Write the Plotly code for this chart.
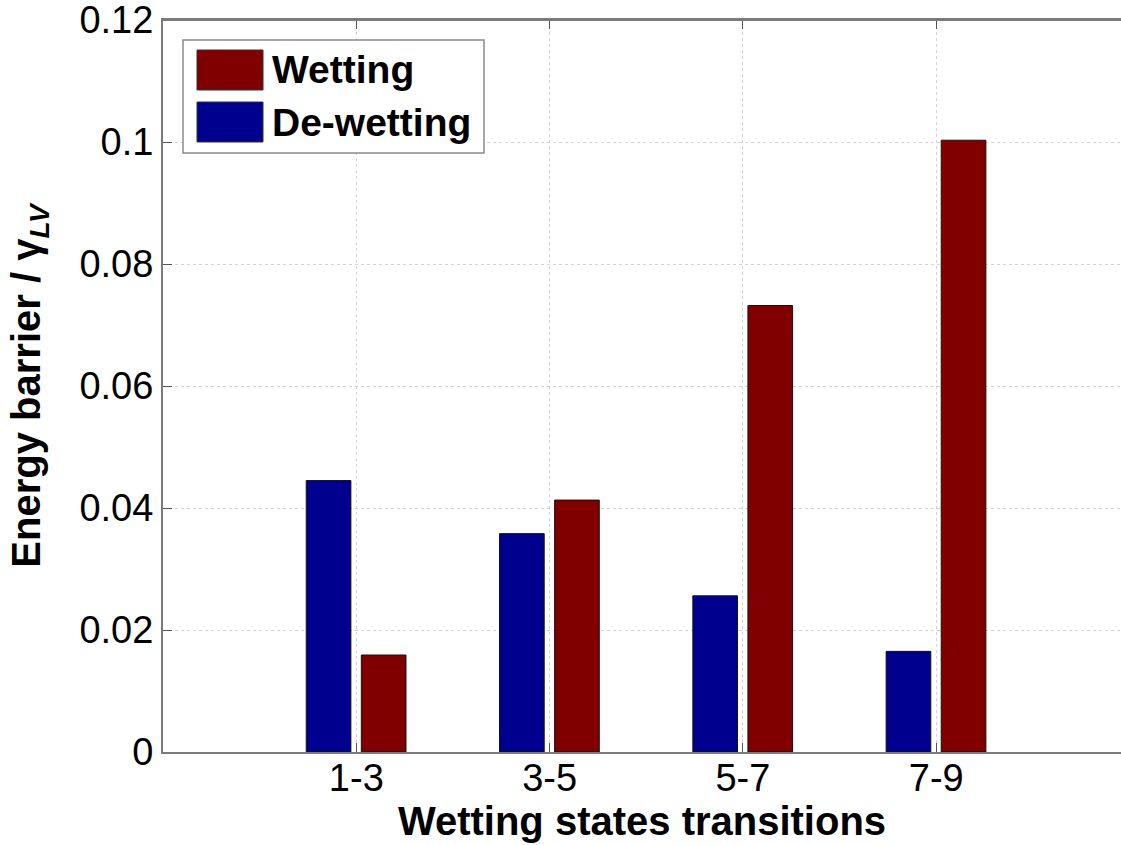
import plotly.graph_objects as go

categories = ["1-3", "3-5", "5-7", "7-9"]
dewetting = [0.0445, 0.0358, 0.0256, 0.0165]
wetting = [0.0159, 0.0413, 0.0732, 0.1003]
series_names = ["Wetting", "De-wetting"]
y_ticks = [0, 0.02, 0.04, 0.06, 0.08, 0.1, 0.12]
y_tick_labels = ["0", "0.02", "0.04", "0.06", "0.08", "0.1", "0.12"]

W, H = 1121, 845
ML, MR, MT, MB = 163, 0, 20, 93
PW, PH = W - ML - MR, H - MT - MB

BLUE = "#00008F"
RED = "#800000"

def px_x(x):
    return (x - ML) / PW

def px_y(y):
    return (H - MB - y) / PH

fig = go.Figure()
fig.add_trace(go.Bar(x=categories, y=dewetting, name=series_names[1],
                     marker=dict(color=BLUE, line=dict(color="#111111", width=1)),
                     width=0.231, offset=-0.259, showlegend=False))
fig.add_trace(go.Bar(x=categories, y=wetting, name=series_names[0],
                     marker=dict(color=RED, line=dict(color="#111111", width=1)),
                     width=0.231, offset=0.026, showlegend=False))

font_main = "Liberation Sans, Arial, sans-serif"

fig.update_layout(
    width=W, height=H,
    margin=dict(l=ML, r=MR, t=MT, b=MB, pad=0),
    plot_bgcolor="white", paper_bgcolor="white",
    font=dict(family=font_main, color="black"),
    barmode="overlay",
    showlegend=False,
    xaxis=dict(
        type="category", range=[-1, 3.956],
        showline=True, linecolor="#7a7a7a", linewidth=2, mirror="ticks",
        ticks="inside", ticklen=9, tickcolor="#555555", tickwidth=1,
        showgrid=True, gridcolor="#d4d4d4", griddash="dot", gridwidth=1,
        tickfont=dict(size=38, family=font_main),
        ticklabelstandoff=-9, ticklabeloverflow="allow",
        title=dict(text="<b>Wetting states transitions</b>",
                   font=dict(size=40, family=font_main), standoff=0),
        zeroline=False,
    ),
    yaxis=dict(
        range=[0, 0.12001], tickvals=y_ticks, ticktext=y_tick_labels,
        showline=True, linecolor="#7a7a7a", linewidth=2, mirror=False,
        ticks="inside", ticklen=9, tickcolor="#555555", tickwidth=1,
        showgrid=True, gridcolor="#d4d4d4", griddash="dot", gridwidth=1,
        tickfont=dict(size=38, family=font_main),
        ticklabelstandoff=0, ticklabeloverflow="allow",
        title=dict(text="<b>Energy barrier / γ<sub><i>LV</i></sub></b>",
                   font=dict(size=40, family=font_main), standoff=26),
        zeroline=False,
    ),
)

# top border line
fig.add_shape(type="line", xref="paper", yref="paper", x0=0, x1=1, y0=1, y1=1,
              line=dict(color="#7a7a7a", width=2))

# manual legend (MATLAB style)
fig.add_shape(type="rect", xref="paper", yref="paper",
              x0=px_x(183), x1=px_x(484), y0=px_y(153), y1=px_y(40),
              line=dict(color="#8a8a8a", width=1.5), fillcolor="white", layer="above")
legend_items = [(series_names[0], RED, 50, 90), (series_names[1], BLUE, 102, 142)]
for name, col, y0, y1 in legend_items:
    fig.add_shape(type="rect", xref="paper", yref="paper",
                  x0=px_x(197), x1=px_x(263), y0=px_y(y1), y1=px_y(y0),
                  line=dict(color="#333333", width=1), fillcolor=col, layer="above")
    fig.add_annotation(xref="paper", yref="paper", x=px_x(270), y=px_y((y0 + y1) / 2),
                       text="<b>%s</b>" % name, showarrow=False, xanchor="left",
                       yanchor="middle", font=dict(size=39, family=font_main, color="black"))

fig.write_html("out.html", config={"displayModeBar": False},
               post_script="document.body.style.margin='0';document.body.style.overflow='hidden';")
